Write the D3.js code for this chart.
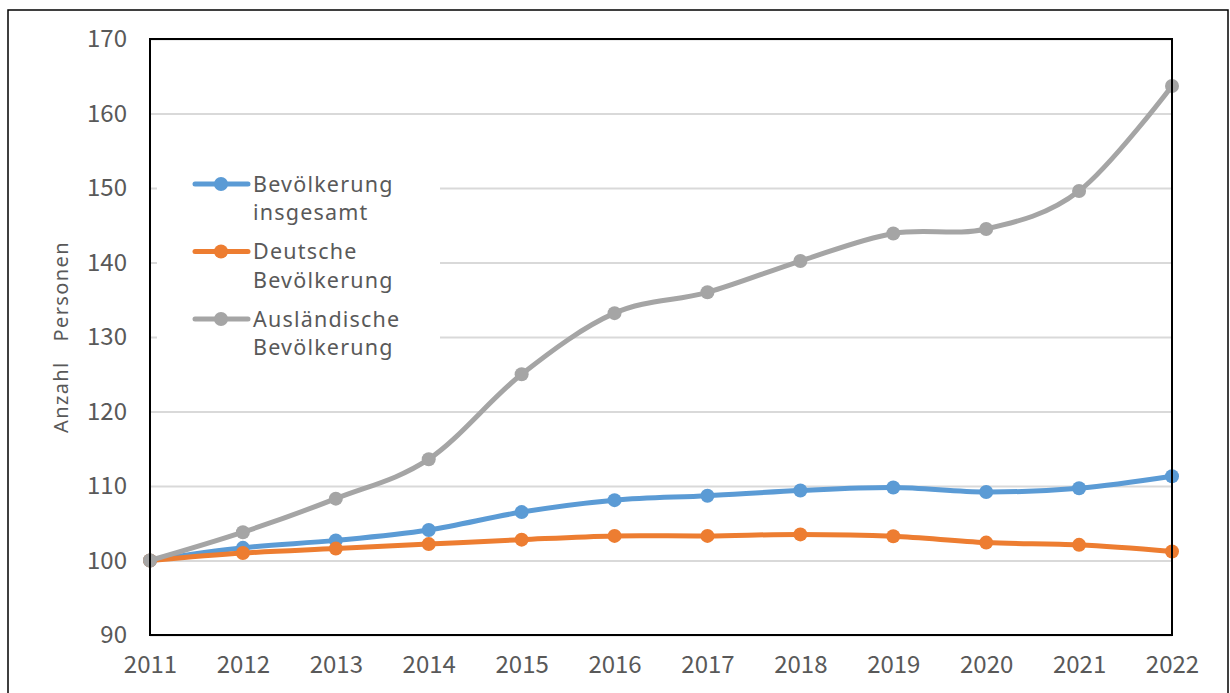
<!DOCTYPE html>
<html>
<head>
<meta charset="utf-8">
<script src="https://cdn.jsdelivr.net/npm/d3@7"></script>
<style>
  body { margin: 0; background: #fff; }
  svg { display: block; font-family: "Noto Sans", sans-serif; }
</style>
</head>
<body>
<svg id="chart" width="1230" height="693"></svg>
<script>
// Data (index, 2011 = 100)
const years = [2011, 2012, 2013, 2014, 2015, 2016, 2017, 2018, 2019, 2020, 2021, 2022];
const gesamt = [100, 101.7, 102.7, 104.1, 106.5, 108.1, 108.7, 109.4, 109.8, 109.2, 109.7, 111.3];
const deutsche = [100, 101.0, 101.6, 102.2, 102.8, 103.3, 103.3, 103.5, 103.25, 102.4, 102.1, 101.2];
const auslaender = [100, 103.8, 108.3, 113.6, 125.0, 133.2, 136.0, 140.2, 143.9, 144.5, 149.6, 163.7];
const yTicks = [90, 100, 110, 120, 130, 140, 150, 160, 170];

const seriesNames = [["Bevölkerung", "insgesamt"], ["Deutsche", "Bevölkerung"], ["Ausländische", "Bevölkerung"]];
const seriesColors = ["#5B9BD5", "#ED7D31", "#A5A5A5"];
const seriesValues = [gesamt, deutsche, auslaender];

const plot = { left: 150, top: 39, right: 1172, bottom: 635 };
const numFont = "\"Noto Sans CJK JP\", sans-serif";

const svg = d3.select("#chart");

// outer chart border
svg.append("rect")
    .attr("x", 8).attr("y", 10)
    .attr("width", 1220).attr("height", 700)
    .attr("fill", "#fff")
    .attr("stroke", "#000")
    .attr("stroke-width", 1.5);

const x = d3.scalePoint()
    .domain(years)
    .range([plot.left, plot.right]);

const y = d3.scaleLinear()
    .domain([90, 170])
    .range([plot.bottom, plot.top]);

// gridlines
svg.append("g")
    .attr("transform", "translate(" + plot.left + ",0)")
    .call(d3.axisLeft(y).tickValues(yTicks).tickSize(-(plot.right - plot.left)).tickFormat(""))
    .call(g => g.select(".domain").remove())
    .call(g => g.selectAll("line").attr("stroke", "#d9d9d9").attr("stroke-width", 2));

// y axis labels
svg.append("g")
    .attr("transform", "translate(" + plot.left + ",0)")
    .call(d3.axisLeft(y).tickValues(yTicks).tickSize(0).tickPadding(23))
    .call(g => g.select(".domain").remove())
    .call(g => g.selectAll("text")
        .attr("fill", "#595959")
        .style("font-size", "24px")
        .style("font-family", numFont));

// x axis labels
svg.append("g")
    .attr("transform", "translate(0," + plot.bottom + ")")
    .call(d3.axisBottom(x).tickSize(0).tickPadding(21))
    .call(g => g.select(".domain").remove())
    .call(g => g.selectAll("text")
        .attr("fill", "#595959")
        .style("font-size", "24px")
        .style("font-family", numFont));

// axis title
svg.append("text")
    .attr("transform", "translate(68," + 337 + ") rotate(-90)")
    .attr("text-anchor", "middle")
    .attr("fill", "#595959")
    .attr("xml:space", "preserve")
    .style("white-space", "pre")
    .style("font-size", "20px")
    .style("letter-spacing", "1.4px")
    .text("Anzahl   Personen");

// legend background (hides gridlines behind it)
const legend = svg.append("g");
legend.append("rect")
    .attr("x", 157).attr("y", 160)
    .attr("width", 283).attr("height", 212)
    .attr("fill", "#fff");

const line = d3.line()
    .x((d, i) => x(years[i]))
    .y(d => y(d))
    .curve(d3.curveCatmullRom.alpha(0));

seriesValues.forEach((vals, k) => {
    svg.append("path")
        .datum(vals)
        .attr("d", line)
        .attr("fill", "none")
        .attr("stroke", seriesColors[k])
        .attr("stroke-width", 5)
        .attr("stroke-linecap", "round")
        .attr("stroke-linejoin", "round");
    svg.append("g")
        .selectAll("circle")
        .data(vals)
        .join("circle")
        .attr("cx", (d, i) => x(years[i]))
        .attr("cy", d => y(d))
        .attr("r", 7)
        .attr("fill", seriesColors[k]);
});

// legend items
seriesNames.forEach((name, k) => {
    const cy = 184 + k * 67.5;
    const g = legend.append("g");
    g.append("line")
        .attr("x1", 195).attr("x2", 248)
        .attr("y1", cy).attr("y2", cy)
        .attr("stroke", seriesColors[k])
        .attr("stroke-width", 5)
        .attr("stroke-linecap", "round");
    g.append("circle")
        .attr("cx", 221).attr("cy", cy)
        .attr("r", 7)
        .attr("fill", seriesColors[k]);
    name.forEach((txt, j) => {
        g.append("text")
            .attr("x", 253)
            .attr("y", cy + j * 28.5)
            .attr("dy", "0.36em")
            .attr("fill", "#595959")
            .style("font-size", "21.5px")
            .style("letter-spacing", "1.2px")
            .text(txt);
    });
});

// plot area frame
svg.append("rect")
    .attr("x", plot.left).attr("y", plot.top)
    .attr("width", plot.right - plot.left)
    .attr("height", plot.bottom - plot.top)
    .attr("fill", "none")
    .attr("stroke", "#000")
    .attr("stroke-width", 2);
</script>
</body>
</html>
